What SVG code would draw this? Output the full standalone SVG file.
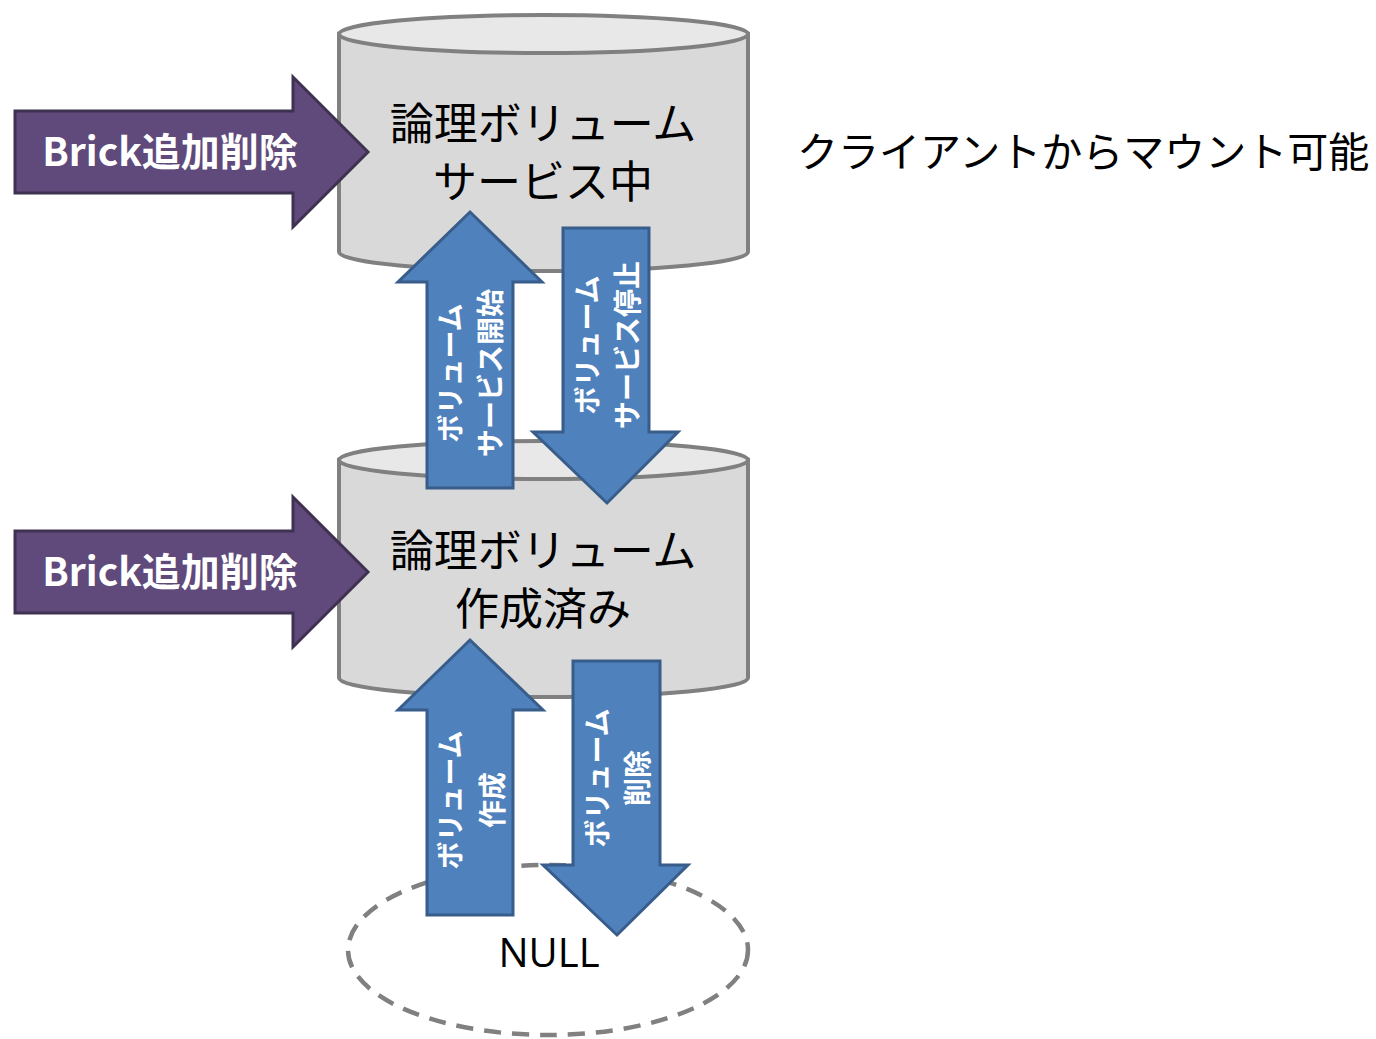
<svg xmlns="http://www.w3.org/2000/svg" width="1376" height="1039" viewBox="0 0 1376 1039">
<style>
.cylb{fill:#d9d9d9;stroke:#808080;stroke-width:4}
.cylt{fill:#e8e8e8;stroke:#808080;stroke-width:4}
.lbl{font-family:"Noto Sans CJK JP","Noto Sans",sans-serif;font-size:44px;fill:#000;text-anchor:middle}
.purple{fill:#604a7b;stroke:#3f3151;stroke-width:3}
.blue{fill:#4f81bd;stroke:#385d8a;stroke-width:3}
.ptxt{font-family:"Noto Sans CJK JP","Noto Sans",sans-serif;font-size:39px;font-weight:bold;fill:#fff;text-anchor:middle}
.btxt{font-family:"Noto Sans CJK JP","Noto Sans",sans-serif;font-size:28px;font-weight:bold;fill:#fff;text-anchor:middle}
</style>
<rect width="1376" height="1039" fill="#fff"/>
<g id="vol-serving">
<path class="cylb" d="M339,34 V252 A204.5,19 0 0 0 748,252 V34 Z"/>
<ellipse class="cylt" cx="543.5" cy="34" rx="204.5" ry="19"/>
<text class="lbl" x="543" y="140">論理ボリューム</text>
<text class="lbl" x="543" y="198">サービス中</text>
</g>
<g id="vol-created">
<path class="cylb" d="M339,460 V678 A204.5,19 0 0 0 748,678 V460 Z"/>
<ellipse class="cylt" cx="543.5" cy="460" rx="204.5" ry="19"/>
<text class="lbl" x="543" y="567">論理ボリューム</text>
<text class="lbl" x="543" y="625">作成済み</text>
</g>
<g id="null">
<ellipse cx="548" cy="950" rx="200" ry="85" fill="none" stroke="#808080" stroke-width="4.5" stroke-dasharray="17 11"/>
<text x="549" y="967" font-family="'Open Sans','Liberation Sans',sans-serif" font-size="40" fill="#000" text-anchor="middle">NULL</text>
</g>
<g id="mount-note">
<text x="797" y="167" font-family="'Noto Sans CJK JP','Noto Sans',sans-serif" font-size="41" fill="#000">クライアントからマウント可能</text>
</g>
<g id="brick-1">
<polygon class="purple" points="15,111 293,111 293,77 368,152 293,227 293,193 15,193"/>
<text class="ptxt" x="170" y="166">Brick追加削除</text>
</g>
<g id="brick-2">
<polygon class="purple" points="15,531 293,531 293,497 368,572 293,647 293,613 15,613"/>
<text class="ptxt" x="170" y="586">Brick追加削除</text>
</g>
<g id="connectors">
<g id="start-service">
<polygon class="blue" points="427,488 427,282 398,282 470,212 542,282 513,282 513,488"/>
<g transform="translate(461,373) rotate(-90)">
<text class="btxt" x="0" y="0">ボリューム</text>
<text class="btxt" x="0" y="40">サービス開始</text>
</g>
</g>
<g id="stop-service">
<polygon class="blue" points="563,228 649,228 649,432 678,432 607,503 533,432 563,432"/>
<g transform="translate(598,345) rotate(-90)">
<text class="btxt" x="0" y="0">ボリューム</text>
<text class="btxt" x="0" y="40">サービス停止</text>
</g>
</g>
<g id="create">
<polygon class="blue" points="427,915 427,710 398,710 470,640 543,710 513,710 513,915"/>
<g transform="translate(461,800) rotate(-90)">
<text class="btxt" x="0" y="0">ボリューム</text>
<text class="btxt" x="0" y="42">作成</text>
</g>
</g>
<g id="delete">
<polygon class="blue" points="573,661 660,661 660,865 688,865 617,935 543,865 573,865"/>
<g transform="translate(608,778) rotate(-90)">
<text class="btxt" x="0" y="0">ボリューム</text>
<text class="btxt" x="0" y="40">削除</text>
</g>
</g>
</g>
</svg>
